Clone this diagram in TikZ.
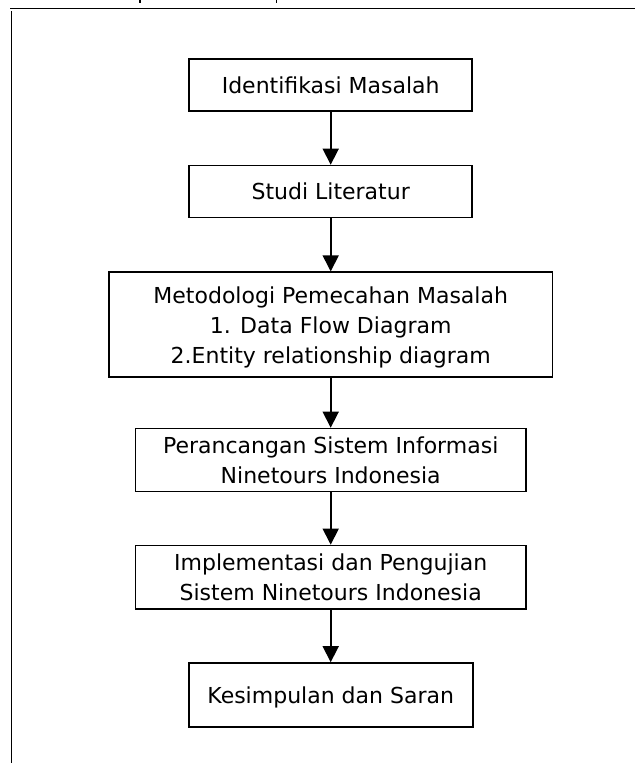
\documentclass[tikz,border=0pt]{standalone}
\usepackage{fontspec}
\setmainfont{DejaVu Sans}
\usetikzlibrary{arrows.meta}
\begin{document}
\begin{tikzpicture}[x=1pt,y=-1pt,
  stepbox/.style={draw=black, line width=1.6pt, rectangle, inner sep=0pt,
    align=center, text depth=0pt, font=\fontsize{22}{30}\selectfont},
  flow/.style={line width=1.6pt, -{Triangle[width=16pt,length=16pt]}},
  frameline/.style={line width=1.6pt}]
\useasboundingbox (0,0) rectangle (635,763);

% table borders
\draw[frameline] (10,8.3) -- (635,8.3);
\draw[frameline] (11.5,11) -- (11.5,763);
% descender fragments of the line above
\fill (139.2,0) rectangle (140.9,3);
\fill (275.7,0) rectangle (277.4,3);

% flow steps
\node[stepbox, minimum width=283pt, minimum height=52pt] (n1) at (330.7,84.7)
  {Identifikasi Masalah};
\node[stepbox, minimum width=283pt, minimum height=52pt] (n2) at (330.7,191.5)
  {Studi Literatur};
\node[stepbox, minimum width=443.5pt, minimum height=105pt] (n3) at (330.7,324.7)
  {Metodologi Pemecahan Masalah\\1. Data Flow Diagram\\2.Entity relationship diagram};
\node[stepbox, minimum width=390.5pt, minimum height=63pt] (n4) at (330.7,460)
  {Perancangan Sistem Informasi\\Ninetours Indonesia};
\node[stepbox, minimum width=390.5pt, minimum height=63.5pt] (n5) at (330.7,577.2)
  {Implementasi dan Pengujian\\Sistem Ninetours Indonesia};
\node[stepbox, minimum width=284pt, minimum height=64pt] (n6) at (330.7,695)
  {Kesimpulan dan Saran};

% connectors
\draw[flow] (n1.south) -- (n2.north);
\draw[flow] (n2.south) -- (n3.north);
\draw[flow] (n3.south) -- (n4.north);
\draw[flow] (n4.south) -- (n5.north);
\draw[flow] (n5.south) -- (n6.north);
\end{tikzpicture}
\end{document}
